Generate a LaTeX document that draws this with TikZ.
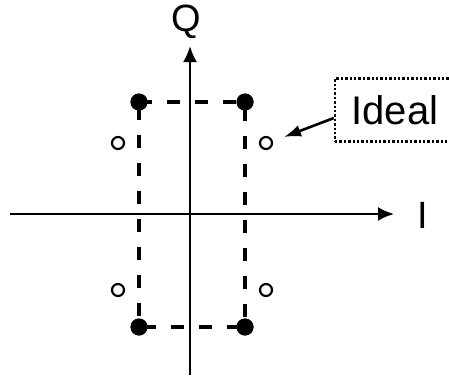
\documentclass[tikz,border=0pt]{standalone}
\usepackage{fontspec}
\setmainfont{Liberation Sans}
\usetikzlibrary{arrows.meta}
\tikzset{
  dot/.style={circle,fill,inner sep=0pt,minimum size=17pt},
  ring/.style={circle,draw,line width=2.2pt,inner sep=0pt,minimum size=12pt},
  lbl/.style={font=\fontsize{38}{40}\selectfont}
}
\begin{document}
\begin{tikzpicture}[x=1pt,y=-1pt,>={Latex[length=16pt,width=14pt]}]
  \useasboundingbox (0,0) rectangle (449,383);
  % axes
  \coordinate (iw) at (10,214);
  \coordinate (ie) at (394,214);
  \coordinate (qs) at (190,375);
  \coordinate (qn) at (190,46);
  \draw[line width=2.3pt,->] (iw) -- (ie);
  \draw[line width=2.3pt,->] (qs) -- (qn);
  \node[lbl] (qlab) at (186,22) {Q};
  \node[lbl] (ilab) at (423,215) {I};
  % constellation
  \node[dot] (p1) at (139,102) {};
  \node[dot] (p2) at (245,102) {};
  \node[dot] (p3) at (245,327) {};
  \node[dot] (p4) at (139,327) {};
  \draw[line width=4pt,dash pattern=on 13pt off 15pt] (p1.center) -- (p2.center) -- (p3.center) -- (p4.center) -- cycle;
  \node[dot] at (p1) {};
  \node[dot] at (p2) {};
  \node[dot] at (p3) {};
  \node[dot] at (p4) {};
  \node[ring] (r1) at (118,143) {};
  \node[ring] (r2) at (266,143) {};
  \node[ring] (r3) at (266,290) {};
  \node[ring] (r4) at (118,290) {};
  % label box
  \node[draw,line width=2.4pt,dash pattern=on 2.4pt off 2pt,minimum width=120pt,minimum height=63pt,
        font=\fontsize{40}{42}\selectfont] (ideal) at (395,110) {Ideal};
  \coordinate (tip) at (284,137);
  \draw[line width=2.6pt,-{Latex[length=17pt,width=12pt]}] (ideal.west |- 0,118) -- (tip);
\end{tikzpicture}
\end{document}
